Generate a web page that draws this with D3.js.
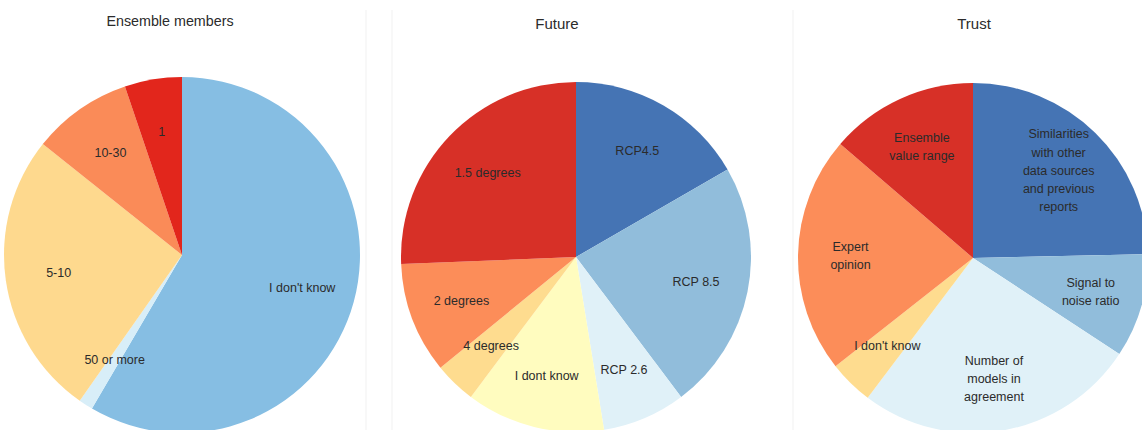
<!DOCTYPE html>
<html>
<head>
<meta charset="utf-8">
<script src="https://cdn.jsdelivr.net/npm/d3@7"></script>
<style>
  html, body { margin: 0; padding: 0; background: #fff; }
  svg { display: block; }
  text { font-family: "Liberation Sans", Arial, sans-serif; fill: #2b2b2b; }
</style>
</head>
<body>
<svg id="chart" width="1142" height="430"></svg>
<script>
// Survey answers: response counts per option, clockwise from 12 o'clock
const titles = ["Ensemble members", "Future", "Trust"];

const ensembleCategories = ["I don't know", "50 or more", "5-10", "10-30", "1"];
const ensembleValues = [45, 1, 20, 7, 4];

const futureCategories = ["RCP4.5", "RCP 8.5", "RCP 2.6", "I dont know", "4 degrees", "2 degrees", "1.5 degrees"];
const futureValues = [13, 18, 6, 10, 3, 8, 20];

const trustCategories = [
  "Similarities\nwith other\ndata sources\nand previous\nreports",
  "Signal to\nnoise ratio",
  "Number of\nmodels in\nagreement",
  "I don't know",
  "Expert\nopinion",
  "Ensemble\nvalue range"
];
const trustValues = [18, 7, 19, 3, 16, 10];

// Slice fills (RdYlBu-style diverging palette)
const ensembleColors = ["#86bee3", "#d8eef8", "#fed98e", "#fa8b58", "#e2261c"];
const futureColors = ["#4574b4", "#91bddb", "#e0f1f8", "#fffcbf", "#fedc8f", "#fc8d59", "#d73027"];
const trustColors = ["#4574b4", "#91bddb", "#e0f1f8", "#fedc8f", "#fc8d59", "#d73027"];

// Panel layout
const panels = [
  { title: titles[0], cats: ensembleCategories, vals: ensembleValues, colors: ensembleColors,
    cx: 182, cy: 255, r: 178, tx: 170, ty: 26, tsize: 14.3 },
  { title: titles[1], cats: futureCategories, vals: futureValues, colors: futureColors,
    cx: 576, cy: 257, r: 175, tx: 557, ty: 29, tsize: 15 },
  { title: titles[2], cats: trustCategories, vals: trustValues, colors: trustColors,
    cx: 973, cy: 258, r: 175, tx: 974, ty: 29, tsize: 15 }
];

const svg = d3.select("#chart");

// faint panel borders
[366, 392, 793].forEach(x => {
  svg.append("line")
    .attr("x1", x).attr("x2", x).attr("y1", 10).attr("y2", 430)
    .attr("stroke", "#f1f1f1").attr("stroke-width", 1);
});

const pie = d3.pie().sort(null).value(d => d.value);

panels.forEach(p => {
  const data = p.cats.map((c, i) => ({ label: c, value: p.vals[i] }));
  const color = d3.scaleOrdinal().domain(p.cats).range(p.colors);
  const arc = d3.arc().innerRadius(0).outerRadius(p.r);
  const labelArc = d3.arc().innerRadius(p.r * 0.7).outerRadius(p.r * 0.7);

  const g = svg.append("g").attr("transform", `translate(${p.cx},${p.cy})`);
  const arcs = pie(data);

  g.selectAll("path").data(arcs).join("path")
    .attr("d", arc)
    .attr("fill", d => color(d.data.label));

  const lineH = 18.3;
  g.selectAll("text.lbl").data(arcs).join("text")
    .attr("class", "lbl")
    .attr("text-anchor", "middle")
    .attr("font-size", 12.5)
    .each(function (d) {
      const [x, y] = labelArc.centroid(d);
      const lines = d.data.label.split("\n");
      const t = d3.select(this);
      lines.forEach((ln, i) => {
        t.append("tspan")
          .attr("x", x)
          .attr("y", y + (i - (lines.length - 1) / 2) * lineH)
          .attr("dy", "0.35em")
          .text(ln);
      });
    });

  svg.append("text")
    .attr("x", p.tx).attr("y", p.ty)
    .attr("text-anchor", "middle")
    .attr("font-size", p.tsize)
    .attr("fill", "#1a1a1a")
    .text(p.title);
});
</script>
</body>
</html>
